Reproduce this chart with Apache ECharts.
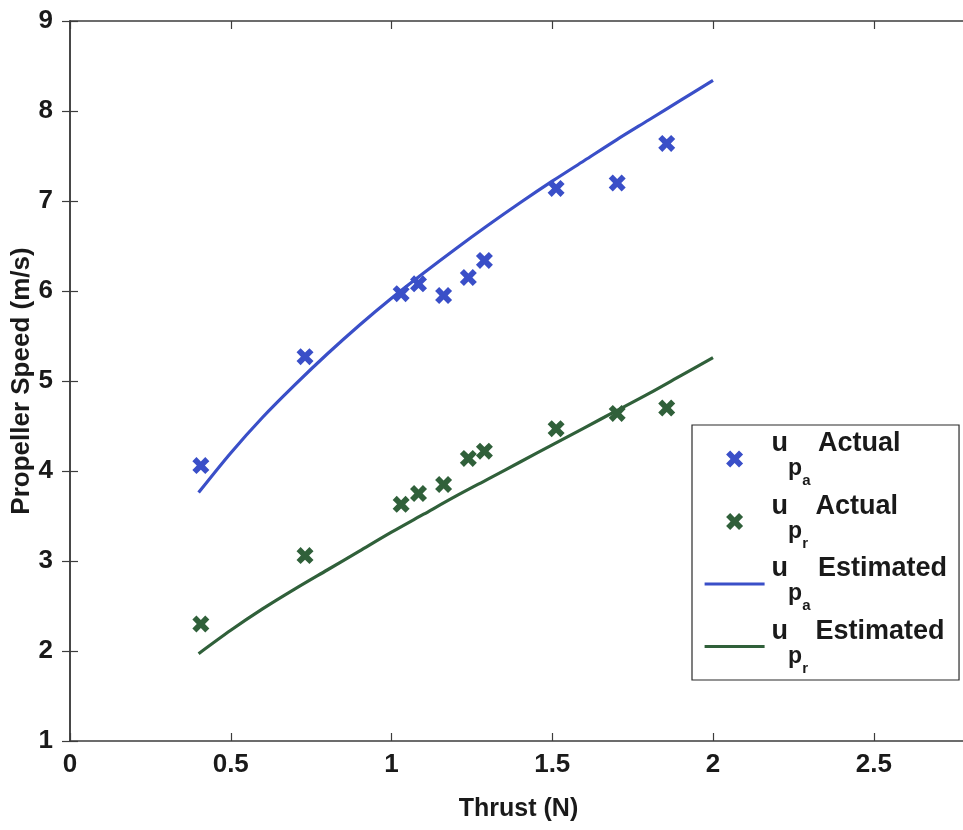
<!DOCTYPE html>
<html>
<head>
<meta charset="utf-8">
<script src="https://cdn.jsdelivr.net/npm/echarts@6/dist/echarts.min.js"></script>
<style>
  html, body { margin: 0; padding: 0; background: #ffffff; }
  #chart { width: 963px; height: 830px; }
</style>
</head>
<body>
<div id="chart"></div>
<script>
// Measured thrust (N) and propeller speeds (m/s)
const thrust    = [0.407, 0.731, 1.030, 1.084, 1.162, 1.239, 1.289, 1.512, 1.702, 1.856];
const upaActual = [4.06, 5.27, 5.97, 6.08, 5.95, 6.15, 6.34, 7.14, 7.20, 7.64];
const uprActual = [2.30, 3.06, 3.63, 3.75, 3.85, 4.14, 4.22, 4.47, 4.64, 4.70];

// Model estimates sampled along the thrust range
const thrustFit    = [0.4, 0.5, 0.6, 0.7, 0.8, 0.9, 1.0, 1.1, 1.2, 1.3, 1.4, 1.5, 1.6, 1.7, 1.8, 1.9, 2.0];
const upaEstimated = [3.76, 4.20, 4.60, 4.96, 5.30, 5.62, 5.92, 6.20, 6.47, 6.73, 6.98, 7.22, 7.45, 7.68, 7.90, 8.12, 8.34];
const uprEstimated = [1.97, 2.23, 2.47, 2.69, 2.90, 3.11, 3.32, 3.52, 3.72, 3.91, 4.10, 4.29, 4.48, 4.67, 4.86, 5.06, 5.26];

const xAxisTitle = 'Thrust (N)';
const yAxisTitle = 'Propeller Speed (m/s)';

const BLUE = '#3a4fc8';
const GREEN = '#30603a';
const AXIS = '#3c3c3c';
const INK = '#1a1a1a';
const FONT = '"Liberation Sans", Arial, Helvetica, sans-serif';

// Bold "x" marker drawn as two crossing diagonal bars
const CROSS = 'path://M0,-2.4L2.6,-5L5,-2.6L2.4,0L5,2.6L2.6,5L0,2.4L-2.6,5L-5,2.6L-2.4,0L-5,-2.6L-2.6,-5Z';
const MARK_SIZE = 17;
const LINE_W = 3.2;

const pairs = (xs, ys) => xs.map((x, i) => [x, ys[i]]);

// Legend entries: u with a double subscript p_a / p_r
const legendText = {
  'upa-actual': '{u|u}{p|p}{s|a}{t| Actual}',
  'upr-actual': '{u|u}{p|p}{s|r}{t| Actual}',
  'upa-est':    '{u|u}{p|p}{s|a}{t| Estimated}',
  'upr-est':    '{u|u}{p|p}{s|r}{t| Estimated}'
};

const chart = echarts.init(document.getElementById('chart'), null, { renderer: 'canvas' });

const axisCommon = {
  type: 'value',
  axisLine: { show: true, lineStyle: { color: AXIS, width: 1.5 } },
  axisTick: { show: true, inside: true, length: 8, lineStyle: { color: AXIS, width: 1.2 } },
  splitLine: { show: false }
};

const hiddenSymbol = { color: 'rgba(0,0,0,0)', borderWidth: 0 };

chart.setOption({
  backgroundColor: '#ffffff',
  animation: false,
  grid: { left: 70, top: 21, bottom: 89, right: -4, containLabel: false, outerBoundsMode: 'none' },
  xAxis: [
    Object.assign({}, axisCommon, {
      position: 'bottom',
      min: 0, max: 2.79, interval: 0.5,
      axisLabel: {
        show: true, margin: 11, showMaxLabel: false,
        color: INK, fontFamily: FONT, fontWeight: 'bold', fontSize: 26
      },
      name: xAxisTitle,
      nameLocation: 'middle',
      nameGap: 56,
      nameTextStyle: { color: INK, fontFamily: FONT, fontWeight: 'bold', fontSize: 25 }
    }),
    Object.assign({}, axisCommon, {
      position: 'top',
      min: 0, max: 2.79, interval: 0.5,
      axisLabel: { show: false }
    })
  ],
  yAxis: [
    Object.assign({}, axisCommon, {
      position: 'left',
      min: 1, max: 9, interval: 1,
      axisLabel: {
        show: true, margin: 17,
        color: INK, fontFamily: FONT, fontWeight: 'bold', fontSize: 26
      },
      name: yAxisTitle,
      nameLocation: 'middle',
      nameGap: 35,
      nameMoveOverlap: false,
      nameTextStyle: { color: INK, fontFamily: FONT, fontWeight: 'bold', fontSize: 26 }
    }),
    Object.assign({}, axisCommon, {
      position: 'right',
      min: 1, max: 9, interval: 1,
      axisLabel: { show: false }
    })
  ],
  legend: {
    orient: 'vertical',
    left: 692,
    top: 425,
    padding: [5, 12, 4, 11],
    itemGap: 4,
    itemWidth: 60,
    itemHeight: MARK_SIZE,
    backgroundColor: '#ffffff',
    borderColor: '#2a2a2a',
    borderWidth: 1.2,
    borderRadius: 0,
    data: [
      { name: 'upa-actual' },
      { name: 'upr-actual' },
      { name: 'upa-est', itemStyle: hiddenSymbol, lineStyle: { width: LINE_W } },
      { name: 'upr-est', itemStyle: hiddenSymbol, lineStyle: { width: LINE_W } }
    ],
    formatter: name => legendText[name],
    textStyle: {
      fontFamily: FONT,
      color: INK,
      rich: {
        u: { fontFamily: FONT, fontWeight: 'bold', fontSize: 27, color: INK,
             verticalAlign: 'top', lineHeight: 58, height: 28, padding: [0, 0, 0, 2] },
        t: { fontFamily: FONT, fontWeight: 'bold', fontSize: 27, color: INK,
             verticalAlign: 'top', lineHeight: 58, height: 28 },
        p: { fontFamily: FONT, fontWeight: 'bold', fontSize: 23, color: INK,
             verticalAlign: 'bottom', height: 22, padding: [0, 0, 8, 0] },
        s: { fontFamily: FONT, fontWeight: 'bold', fontSize: 15, color: INK,
             verticalAlign: 'bottom', height: 14 }
      }
    }
  },
  series: [
    {
      name: 'upa-actual',
      type: 'scatter',
      xAxisIndex: 0, yAxisIndex: 0,
      data: pairs(thrust, upaActual),
      symbol: CROSS,
      symbolSize: MARK_SIZE,
      itemStyle: { color: BLUE, opacity: 1 },
      z: 3
    },
    {
      name: 'upr-actual',
      type: 'scatter',
      xAxisIndex: 0, yAxisIndex: 0,
      data: pairs(thrust, uprActual),
      symbol: CROSS,
      symbolSize: MARK_SIZE,
      itemStyle: { color: GREEN, opacity: 1 },
      z: 3
    },
    {
      name: 'upa-est',
      type: 'line',
      xAxisIndex: 0, yAxisIndex: 0,
      data: pairs(thrustFit, upaEstimated),
      symbol: 'none',
      smooth: 0.3,
      lineStyle: { color: BLUE, width: LINE_W },
      itemStyle: { color: BLUE },
      z: 2
    },
    {
      name: 'upr-est',
      type: 'line',
      xAxisIndex: 0, yAxisIndex: 0,
      data: pairs(thrustFit, uprEstimated),
      symbol: 'none',
      smooth: 0.3,
      lineStyle: { color: GREEN, width: LINE_W },
      itemStyle: { color: GREEN },
      z: 2
    }
  ]
});
</script>
</body>
</html>
